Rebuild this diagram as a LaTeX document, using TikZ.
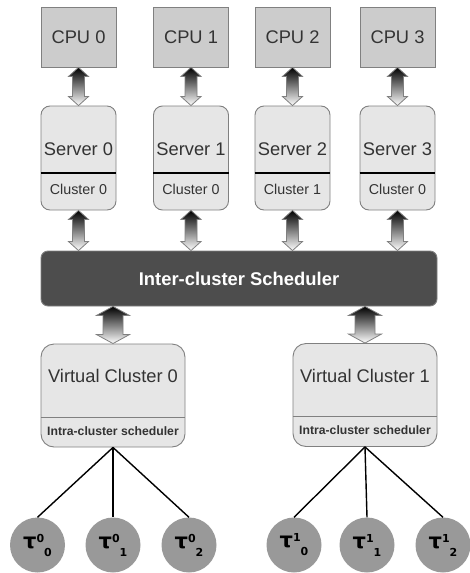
\documentclass[tikz,border=0pt]{standalone}
\usepackage{fontspec}
\setmainfont{Liberation Sans}
\newfontfamily\dejavu{DejaVu Sans}
\usepackage{tikz}
\usetikzlibrary{calc,positioning}

\definecolor{txtgray}{HTML}{333333}
\definecolor{boxline}{HTML}{808080}
\definecolor{cpufill}{HTML}{CCCCCC}
\definecolor{srvfill}{HTML}{E6E6E6}
\definecolor{schedfill}{HTML}{4D4D4D}
\definecolor{taskfill}{HTML}{999999}

\tikzset{
  arrowfill/.style={top color=black,bottom color=white,draw=boxline,line width=0.8pt},
  bigtxt/.style={font=\fontsize{18.3}{20}\selectfont,text=txtgray},
  smalltxt/.style={font=\fontsize{14.3}{16}\selectfont,text=txtgray},
  intratxt/.style={font=\bfseries\fontsize{12.2}{14}\selectfont,text=txtgray}
}

\newcommand{\biarrow}[5]{%
  \path[arrowfill] let \p1=(#1.south), \p2=(#2.north), \p3=(#3) in
    (\x3,\y1) -- (\x3+#5,\y1-9pt) -- (\x3+#4,\y1-9pt) -- (\x3+#4,\y2+9pt)
    -- (\x3+#5,\y2+9pt) -- (\x3,\y2) -- (\x3-#5,\y2+9pt) -- (\x3-#4,\y2+9pt)
    -- (\x3-#4,\y1-9pt) -- (\x3-#5,\y1-9pt) -- cycle;
}
\newcommand{\tsk}[2]{{\dejavu\bfseries\fontsize{21}{21}\selectfont
  τ\raisebox{6pt}{\fontsize{11}{11}\selectfont #1}\raisebox{-8pt}{\fontsize{11}{11}\selectfont #2}}}

\begin{document}
\begin{tikzpicture}[x=1pt,y=-1pt]
			\useasboundingbox (0,0) rectangle (470,573);

			\begin{scope}[every node/.style={rectangle,draw=boxline,fill=cpufill,line width=0.9pt,
				minimum width=75pt,minimum height=60pt,bigtxt}]
				\node (cpu0) at (78.5,37) {CPU 0};
				\node (cpu1) at (191,37) {CPU 1};
				\node (cpu2) at (292.5,37) {CPU 2};
				\node (cpu3) at (397.5,37) {CPU 3};
			\end{scope}

			\begin{scope}[every node/.style={rectangle,rounded corners=9pt,draw=boxline,fill=srvfill,
				line width=0.9pt,minimum width=75pt,minimum height=104pt}]
				\node (srv0) at (78.5,158) {};
				\node (srv1) at (191,158) {};
				\node (srv2) at (292.5,158) {};
				\node (srv3) at (397.5,158) {};
			\end{scope}

			\foreach \s/\c in {0/0,1/0,2/1,3/0} {
				\draw[line width=1.2pt] ([yshift=-15pt]srv\s.west) -- ([yshift=-15pt]srv\s.east);
				\node[bigtxt] (srvname\s) at ([yshift=9pt]srv\s.center) {Server \s};
				\node[smalltxt] (srvclu\s) at ([yshift=-31pt]srv\s.center) {Cluster \c};
			}

			\node[rectangle,rounded corners=7pt,draw=boxline,fill=schedfill,line width=0.9pt,
				minimum width=396pt,minimum height=55pt,text=white,
				font=\bfseries\fontsize{18.4}{20}\selectfont] (sched) at (239,278.5) {Inter-cluster Scheduler};

			\begin{scope}[every node/.style={rectangle,rounded corners=13pt,draw=boxline,fill=srvfill,
				line width=0.9pt,minimum width=144pt,minimum height=103pt}]
				\node (vc0) at (113,395.5) {};
				\node (vc1) at (365,395) {};
			\end{scope}

			\foreach \v in {0,1} {
				\draw[boxline,line width=0.9pt] ([yshift=-21.5pt]vc\v.west) -- ([yshift=-21.5pt]vc\v.east);
				\node[bigtxt] (vcname\v) at ([yshift=19.5pt]vc\v.center) {Virtual Cluster \v};
				\node[intratxt] (vcintra\v) at ([yshift=-35.5pt]vc\v.center) {Intra-cluster scheduler};
			}

			\foreach \s in {0,1,2,3} {
				\biarrow{cpu\s}{srv\s}{srv\s}{6pt}{10pt}
				\biarrow{srv\s}{sched}{srv\s}{6pt}{10pt}
			}
			\biarrow{sched}{vc0}{vc0}{10pt}{16.5pt}
			\biarrow{sched}{vc1}{vc1}{10pt}{16.5pt}

			\begin{scope}[every node/.style={circle,fill=taskfill,minimum size=55pt,inner sep=0pt}]
				\node (t00) at (37.5,545) {\tsk{0}{0}};
				\node (t01) at (113,545) {\tsk{0}{1}};
				\node (t02) at (189,545) {\tsk{0}{2}};
				\node (t10) at (294,545) {\tsk{1}{0}};
				\node (t11) at (367,545) {\tsk{1}{1}};
				\node (t12) at (443,545) {\tsk{1}{2}};
			\end{scope}

			\begin{scope}[every edge/.style={draw=black,line width=1.4pt}]
				\path (vc0.south) edge (t00.north);
				\path (vc0.south) edge (t01.north);
				\path (vc0.south) edge (t02.north);
				\path (vc1.south) edge (t10.north);
				\path (vc1.south) edge (t11.north);
				\path (vc1.south) edge (t12.north);
			\end{scope}
		\end{tikzpicture}
\end{document}
